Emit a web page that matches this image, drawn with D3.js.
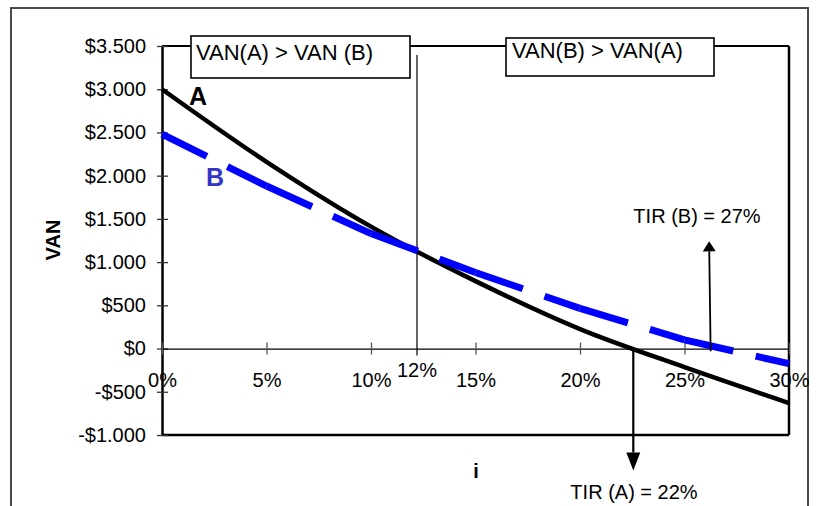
<!DOCTYPE html>
<html>
<head>
<meta charset="utf-8">
<script src="https://cdn.jsdelivr.net/npm/d3@7/dist/d3.min.js"></script>
<style>
  html, body { margin: 0; padding: 0; background: #fff; }
  svg { display: block; }
  text { font-family: "Liberation Sans", Arial, sans-serif; fill: #000; }
</style>
</head>
<body>
<svg id="chart" width="820" height="506"></svg>
<script>
// Discount rates (%) and net present values of both projects
const rates = [0, 5, 10, 15, 20, 25, 30];
const vanA  = [3000, 2160, 1410, 780, 225, -215, -630];
const vanB  = [2480, 1880, 1330, 880, 465, 100, -175];

// Axis ticks
const xTicks = [0, 5, 10, 15, 20, 25, 30];
const yTicks = [-1000, -500, 0, 500, 1000, 1500, 2000, 2500, 3000, 3500];

// Crossover rate and IRR markers
const crossRate = 12.2, crossLabel = "12%";
const tirA = { rate: 22.55, from: 0, to: -1410, label: "TIR (A) = 22%" };
const tirB = { rate: 26.25, from: -30, to: 1240, label: "TIR (B) = 27%" };

const svg = d3.select("#chart");
const M = { left: 162, right: 789, top: 46, bottom: 435 };

const x = d3.scaleLinear().domain([0, 30]).range([M.left, M.right]);
const y = d3.scaleLinear().domain([-1000, 3500]).range([M.bottom, M.top]);

const loc = d3.formatLocale({ decimal: ",", thousands: ".", grouping: [3], currency: ["$", ""], minus: "-" });
const money = loc.format("$,.0f");

// Outer chart frame
svg.append("path")
  .attr("d", "M11,506V8H808V506")
  .attr("fill", "none").attr("stroke", "#4a4a4a").attr("stroke-width", 2);

// Plot frame
const frame = svg.append("g").attr("stroke", "#000").attr("fill", "none");
frame.append("line").attr("x1", M.left).attr("x2", M.right).attr("y1", M.top).attr("y2", M.top).attr("stroke-width", 2);
frame.append("line").attr("x1", M.right).attr("x2", M.right).attr("y1", M.top).attr("y2", M.bottom).attr("stroke-width", 2.5);
frame.append("line").attr("x1", M.left).attr("x2", M.right).attr("y1", M.bottom).attr("y2", M.bottom).attr("stroke-width", 2.5);

// Y axis
const yAxis = svg.append("g")
  .attr("transform", `translate(${M.left},0)`)
  .call(d3.axisLeft(y).tickValues(yTicks).tickFormat(money).tickSizeInner(5).tickSizeOuter(0).tickPadding(11));
yAxis.select(".domain").attr("stroke", "#000").attr("stroke-width", 2.5);
yAxis.selectAll(".tick line").attr("x1", 6).attr("stroke", "#333").attr("stroke-width", 1.3);
yAxis.selectAll(".tick text").attr("font-size", 20).style("font-family", "'Liberation Sans', Arial, sans-serif");

// X axis along VAN = 0
const xAxis = svg.append("g")
  .attr("transform", `translate(0,${y(0)})`)
  .call(d3.axisBottom(x).tickValues(xTicks).tickFormat(d => d + "%").tickSizeInner(6).tickSizeOuter(0));
xAxis.select(".domain").attr("stroke", "#000").attr("stroke-width", 1.2);
xAxis.selectAll(".tick line").attr("y1", -6).attr("stroke", "#555").attr("stroke-width", 1.3);
xAxis.selectAll(".tick text").attr("font-size", 20).attr("y", 38).attr("dy", null)
  .style("font-family", "'Liberation Sans', Arial, sans-serif");

// Crossover rate marker
svg.append("line")
  .attr("x1", x(crossRate)).attr("x2", x(crossRate))
  .attr("y1", 55).attr("y2", y(0) + 7)
  .attr("stroke", "#000").attr("stroke-width", 1.2);
svg.append("text")
  .attr("x", x(crossRate)).attr("y", y(0) + 28)
  .attr("text-anchor", "middle").attr("font-size", 20).text(crossLabel);

// Region boxes
const boxes = [
  { x: 191, y: 36, w: 219, h: 42, tx: 196, ty: 60, text: "VAN(A) > VAN (B)" },
  { x: 506, y: 38, w: 208, h: 38, tx: 512, ty: 58, text: "VAN(B) > VAN(A)" }
];
const bg = svg.selectAll("g.box").data(boxes).join("g").attr("class", "box");
bg.append("rect")
  .attr("x", d => d.x).attr("y", d => d.y).attr("width", d => d.w).attr("height", d => d.h)
  .attr("fill", "#fff").attr("stroke", "#000").attr("stroke-width", 1.6);
bg.append("text")
  .attr("x", d => d.tx).attr("y", d => d.ty).attr("font-size", 22).text(d => d.text);

// Project A: smoothed solid black line
const ptsA = rates.map((r, i) => [r, vanA[i]]);
const ptsB = rates.map((r, i) => [r, vanB[i]]);
const line = d3.line().x(d => x(d[0])).y(d => y(d[1]));
const smooth = d3.line().x(d => x(d[0])).y(d => y(d[1])).curve(d3.curveCatmullRom.alpha(0.5));

svg.append("path")
  .attr("d", smooth(ptsA))
  .attr("fill", "none").attr("stroke", "#000").attr("stroke-width", 4.5)
  .attr("stroke-linejoin", "round");

// Project B: long-dash blue line, pattern restarting at each point
svg.append("g").selectAll("path")
  .data(d3.pairs(ptsB))
  .join("path")
  .attr("d", d => line(d))
  .attr("fill", "none").attr("stroke", "#0000ff").attr("stroke-width", 7)
  .attr("stroke-dasharray", "50,23").attr("stroke-linecap", "butt");

// Series labels
svg.append("text").attr("x", 198).attr("y", 105).attr("text-anchor", "middle")
  .attr("font-size", 25).attr("font-weight", "bold").text("A");
svg.append("text").attr("x", 215).attr("y", 186).attr("text-anchor", "middle")
  .attr("font-size", 25).attr("font-weight", "bold").style("fill", "#3535c8").text("B");

// IRR arrows
function arrow(from, to, width, headW, headL) {
  const ang = Math.atan2(to[1] - from[1], to[0] - from[0]);
  const base = [to[0] - headL * Math.cos(ang), to[1] - headL * Math.sin(ang)];
  svg.append("line")
    .attr("x1", from[0]).attr("y1", from[1]).attr("x2", base[0]).attr("y2", base[1])
    .attr("stroke", "#000").attr("stroke-width", width);
  const px = -Math.sin(ang) * headW / 2, py = Math.cos(ang) * headW / 2;
  svg.append("path")
    .attr("d", `M${to[0]},${to[1]}L${base[0] + px},${base[1] + py}L${base[0] - px},${base[1] - py}Z`)
    .attr("fill", "#000");
}
arrow([x(tirA.rate), y(tirA.from)], [x(tirA.rate), y(tirA.to)], 2.2, 14, 18);
arrow([x(tirB.rate), y(tirB.from)], [x(tirB.rate) - 1.5, y(tirB.to)], 1.8, 13, 10);

svg.append("text").attr("x", 634).attr("y", 499).attr("text-anchor", "middle").attr("font-size", 20).text(tirA.label);
svg.append("text").attr("x", 697).attr("y", 223).attr("text-anchor", "middle").attr("font-size", 20).text(tirB.label);

// Axis titles
svg.append("text").attr("transform", "translate(60,240) rotate(-90)")
  .attr("text-anchor", "middle").attr("font-size", 20).attr("font-weight", "bold").text("VAN");
svg.append("text").attr("x", 476).attr("y", 478).attr("text-anchor", "middle")
  .attr("font-size", 20).attr("font-weight", "bold").text("i");
</script>
</body>
</html>
